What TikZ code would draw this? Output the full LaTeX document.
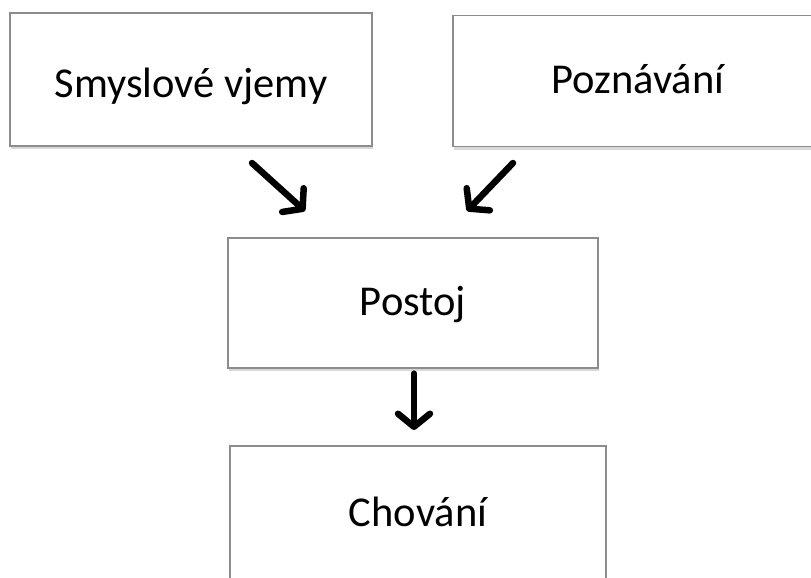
\documentclass[tikz,border=0pt]{standalone}
\usepackage{fontspec}
\setmainfont{Carlito}
\usetikzlibrary{arrows.meta,shadows}
\begin{document}
\begin{tikzpicture}[x=1pt,y=-1pt,
  box/.style={draw=black!45, line width=1.2pt, fill=white, rectangle,
    inner sep=0pt, font=\fontsize{42.5}{48}\selectfont,
    text height=25pt, text depth=0pt,
    drop shadow={shadow xshift=1pt, shadow yshift=-3pt, opacity=0.25, fill=black!60}},
  flow/.style={line width=6.5pt, line cap=round,
    -{Straight Barb[length=13pt, width=32pt, line width=6.5pt, round]}}]
  \clip (0,0) rectangle (811,578);
  \fill[white] (0,0) rectangle (811,578);
  % boxes, positioned by centre with the measured sizes
  \node[box, minimum width=362pt, minimum height=133pt, text height=35pt] (smysl) at (191,79.5) {Smyslové vjemy};
  \node[box, minimum width=370pt, minimum height=131pt] (pozn) at (638,81) {Poznávání};
  \node[box, minimum width=370pt, minimum height=130pt] (postoj) at (413,303) {Postoj};
  \node[box, minimum width=376pt, minimum height=136pt] (chov) at (418,514) {Chování};
  % connectors
  \coordinate (a1) at (252,163);
  \coordinate (a2) at (305,211);
  \coordinate (b1) at (513,163);
  \coordinate (b2) at (467,211);
  \draw[flow] (a1) -- (a2);
  \draw[flow] (b1) -- (b2);
  \draw[flow] (postoj.south -| 414,0) ++(0,5) -- (414,430);
\end{tikzpicture}
\end{document}
